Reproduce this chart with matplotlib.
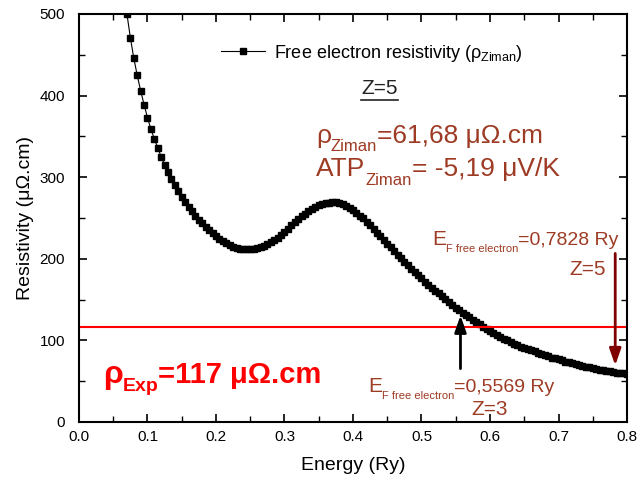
import matplotlib
matplotlib.use('Agg')
import matplotlib.pyplot as plt
from matplotlib.ticker import MultipleLocator
from matplotlib.lines import Line2D
from matplotlib.transforms import offset_copy

plt.rcParams['font.family'] = ['Liberation Sans', 'DejaVu Sans']
plt.rcParams['mathtext.fontset'] = 'custom'
plt.rcParams['mathtext.rm'] = 'Liberation Sans'
plt.rcParams['mathtext.it'] = 'Liberation Sans'
plt.rcParams['mathtext.bf'] = 'Liberation Sans:bold'

# Free electron resistivity (Ziman)
energy = [0.070, 0.075, 0.080, 0.085, 0.090, 0.095, 0.100, 0.105, 0.110, 0.115,
          0.120, 0.125, 0.130, 0.135, 0.140, 0.145, 0.150, 0.155, 0.160, 0.165,
          0.170, 0.175, 0.180, 0.185, 0.190, 0.195, 0.200, 0.205, 0.210, 0.215,
          0.220, 0.225, 0.230, 0.235, 0.240, 0.245, 0.250, 0.255, 0.260, 0.265,
          0.270, 0.275, 0.280, 0.285, 0.290, 0.295, 0.300, 0.305, 0.310, 0.315,
          0.320, 0.325, 0.330, 0.335, 0.340, 0.345, 0.350, 0.355, 0.360, 0.365,
          0.370, 0.375, 0.380, 0.385, 0.390, 0.395, 0.400, 0.405, 0.410, 0.415,
          0.420, 0.425, 0.430, 0.435, 0.440, 0.445, 0.450, 0.455, 0.460, 0.465,
          0.470, 0.475, 0.480, 0.485, 0.490, 0.495, 0.500, 0.505, 0.510, 0.515,
          0.520, 0.525, 0.530, 0.535, 0.540, 0.545, 0.550, 0.555, 0.560, 0.565,
          0.570, 0.575, 0.580, 0.585, 0.590, 0.595, 0.600, 0.605, 0.610, 0.615,
          0.620, 0.625, 0.630, 0.635, 0.640, 0.645, 0.650, 0.655, 0.660, 0.665,
          0.670, 0.675, 0.680, 0.685, 0.690, 0.695, 0.700, 0.705, 0.710, 0.715,
          0.720, 0.725, 0.730, 0.735, 0.740, 0.745, 0.750, 0.755, 0.760, 0.765,
          0.770, 0.775, 0.780, 0.785, 0.790, 0.795, 0.800]
resistivity = [500, 471, 446, 425, 406, 389, 373, 359, 347, 336,
               325, 315, 306, 298, 290, 283, 276, 270, 264, 258.5,
               253, 248, 243.5, 239, 235, 231, 227.5, 224.5, 221.5, 219,
               217, 215, 213.5, 212.5, 212, 211.5, 211.5, 212, 213, 214.5,
               216, 218, 220, 223, 226, 229.5, 233, 237, 241, 245,
               249, 252.5, 255.5, 258.5, 261, 263.5, 265.5, 267, 268, 268.5,
               269, 269, 268.5, 267, 265, 262.5, 259.5, 256.5, 253, 249.5,
               245.5, 241, 236.5, 232, 227.5, 223, 218.5, 214, 209.5, 205,
               200.5, 196, 192, 188, 184, 180, 176, 172, 168, 164.5,
               161, 157.5, 154, 150.5, 147, 143.5, 140, 137, 134, 131,
               128.5, 125.5, 122.5, 119.5, 116.5, 113.5, 111, 108.5, 106, 104,
               102, 100, 98, 96, 94, 92.5, 91, 89.5, 88, 86.5,
               85, 83.5, 82, 80.5, 79, 78, 77, 75.5, 74, 73,
               72, 71, 70, 69, 68, 67, 66, 65, 64, 63.5,
               63, 62, 61, 60.5, 60, 59.5, 59]

rho_exp = 117
ef_z3 = 0.5569
ef_z5 = 0.7828

brown = '#9e3b24'

fig = plt.figure(figsize=(6.4, 4.86), dpi=100)
ax = fig.add_axes([0.1234, 0.1317, 0.8563, 0.8395])

ax.plot(energy, resistivity, '-s', color='black', lw=0.8, ms=5,
        label=r'Free electron resistivity ($\mathrm{\rho_{Ziman}}$)')
ax.axhline(rho_exp, color='red', lw=1.5)

ax.set_xlim(0, 0.8)
ax.set_ylim(0, 500)
ax.xaxis.set_major_locator(MultipleLocator(0.1))
ax.xaxis.set_minor_locator(MultipleLocator(0.05))
ax.yaxis.set_major_locator(MultipleLocator(100))
ax.yaxis.set_minor_locator(MultipleLocator(50))
ax.tick_params(which='both', direction='in', top=True, right=True, labelsize=11)
ax.tick_params(which='major', length=6, width=1.2)
ax.tick_params(which='minor', length=4, width=1.0)
ax.tick_params(axis='x', pad=6)
ax.tick_params(axis='y', pad=10)
for sp in ax.spines.values():
    sp.set_linewidth(1.5)

ax.set_xlabel('Energy (Ry)', fontsize=14, labelpad=9)
ax.set_ylabel('Resistivity (μΩ.cm)', fontsize=14, labelpad=4)

leg = ax.legend(loc='upper left', bbox_to_anchor=(0.26, 0.93), frameon=False,
                fontsize=13, numpoints=1, handlelength=2.4, handletextpad=0.5,
                borderpad=0, borderaxespad=0)

renderer = fig.canvas.get_renderer()


def rich(x, y, parts, color, weight='normal'):
    # parts: (text, fontsize, vertical shift in points); drawn one after another
    first = ax.text(x, y, parts[0][0], fontsize=parts[0][1], color=color,
                    fontweight=weight, va='baseline')
    prev = first
    for s, size, dy in parts[1:]:
        x_px = prev.get_window_extent(renderer=renderer).x1
        base = ax.transData.transform((x, y))
        xd = ax.transData.inverted().transform((x_px, base[1]))[0]
        tr = offset_copy(ax.transData, fig=fig, x=0, y=dy, units='points')
        prev = ax.text(xd, y, s, fontsize=size, color=color, fontweight=weight,
                       va='baseline', transform=tr)


z5 = ax.text(0.439, 409, 'Z=5', fontsize=15, color='#222222', ha='center', va='center')

rich(0.346, 342, [('ρ', 19, 0), ('Ziman', 12, -6), ('=61,68 μΩ.cm', 19, 0)], brown)
rich(0.346, 301, [('ATP', 19, 0), ('Ziman', 12, -6), ('= -5,19 μV/K', 19, 0)], brown)

rich(0.035, 48, [('ρ', 23, 0), ('Exp', 14, -6), ('=117 μΩ.cm', 21, 0)], 'red',
     weight='bold')

rich(0.515, 217, [('E', 15, 0), ('F free electron', 8, -5), ('=0,7828 Ry', 14, 0)],
     brown)
ax.text(0.743, 180, 'Z=5', fontsize=15, color=brown, ha='center', va='baseline')
rich(0.422, 37, [('E', 15, 0), ('F free electron', 8, -5), ('=0,5569 Ry', 14, 0)],
     brown)
ax.text(0.6, 8, 'Z=3', fontsize=15, color=brown, ha='center', va='baseline')

ax.annotate('', xy=(ef_z5, 66), xytext=(ef_z5, 210),
            arrowprops=dict(arrowstyle='-|>,head_length=1.0,head_width=0.35',
                            color='#7f0000', lw=2, mutation_scale=10))
ax.annotate('', xy=(ef_z3, 134), xytext=(ef_z3, 62),
            arrowprops=dict(arrowstyle='-|>,head_length=1.0,head_width=0.35',
                            color='black', lw=2, mutation_scale=10))

# underline the Z=5 label
fig.canvas.draw()
bb = z5.get_window_extent().transformed(fig.transFigure.inverted())
fig.add_artist(Line2D([bb.x0, bb.x1], [bb.y0 - 0.004, bb.y0 - 0.004],
                      transform=fig.transFigure, color='#222222', lw=1.2))

fig.savefig('out.png', dpi=100)
